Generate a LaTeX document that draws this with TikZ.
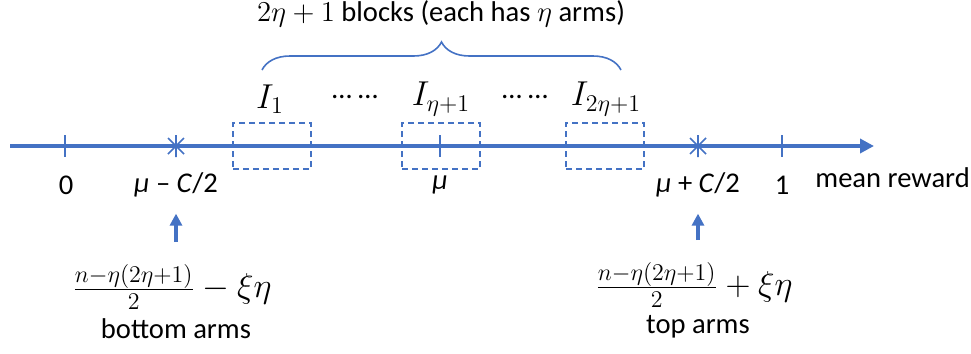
\documentclass[tikz,border=0pt]{standalone}
\usepackage{fontspec}
\setmainfont{Carlito}
\usetikzlibrary{arrows.meta,decorations.pathreplacing}
\definecolor{axisblue}{HTML}{4472C4}

\tikzset{
  lbl/.style={font=\fontsize{14.3}{17}\selectfont, inner sep=1pt},
  mathlbl/.style={font=\fontsize{16.5}{19}\selectfont, inner sep=1pt},
  blockbox/.style={draw=axisblue, dashed, line width=0.8pt,
    dash pattern=on 3pt off 2pt, minimum width=39pt, minimum height=23pt},
  tickmark/.style={draw=axisblue, line width=0.8pt},
  uparrow/.style={draw=axisblue, line width=1.6pt, -{Triangle[length=6pt,width=6pt]}},
}

\begin{document}
\begin{tikzpicture}[x=0.5pt,y=-0.5pt]
  \useasboundingbox (0,0) rectangle (971,354);

  % axis
  \coordinate (axisstart) at (10,146);
  \coordinate (axisend) at (874,146);
  \draw[axisblue, line width=2pt, -{Triangle[length=7pt,width=7pt]}] (axisstart) -- (axisend);

  % ticks
  \foreach \name/\x in {zero/65, mid/440, one/782} {
    \coordinate (\name) at (\x,146);
    \draw[tickmark] (\x,135) -- (\x,157);
  }

  % stars
  \foreach \name/\x in {lowstar/176, highstar/698} {
    \coordinate (\name) at (\x,146);
    \draw[tickmark] (\x,135) -- (\x,157)
      (\x-8,138) -- (\x+8,154) (\x-8,154) -- (\x+8,138);
  }

  % blocks
  \node[blockbox] (firstblock) at (272,146) {};
  \node[blockbox] (midblock) at (441,146) {};
  \node[blockbox] (lastblock) at (605,146) {};

  % block labels
  \node[mathlbl] (firstlabel) at (270,99) {$I_1$};
  \node[lbl] at (355,97) {… …};
  \node[mathlbl] (midlabel) at (441,99) {$I_{\eta+1}$};
  \node[lbl] at (525,97) {… …};
  \node[mathlbl] (lastlabel) at (606,99) {$I_{2\eta+1}$};

  % brace
  \coordinate (braceleft) at (262,70);
  \coordinate (braceright) at (621,70);
  \draw[axisblue, line width=0.8pt, decorate,
    decoration={brace, amplitude=14pt}] (braceleft) -- (braceright);
  \node[lbl] (title) at (441,14) {$2\eta+1$ blocks (each has $\eta$ arms)};

  % axis labels
  \node[lbl] (zerolabel) at (66,185) {0};
  \node[lbl] (lowlabel) at (176,185) {\textit{μ} – \textit{C}/2};
  \node[lbl] (mulabel) at (440,185) {\textit{μ}};
  \node[lbl] (highlabel) at (698,185) {\textit{μ} + \textit{C}/2};
  \node[lbl] (onelabel) at (782,185) {1};
  \node[lbl, anchor=west] (axislabel) at (813,178) {mean reward};

  % arm counts
  \node[mathlbl, inner sep=0pt] (bottomcount) at (172,287) {$\frac{n-\eta(2\eta+1)}{2}-\xi\eta$};
  \node[lbl, inner sep=0pt] (bottomtext) at (176,329) {bottom arms};
  \node[mathlbl, inner sep=0pt] (topcount) at (694,285) {$\frac{n-\eta(2\eta+1)}{2}+\xi\eta$};
  \node[lbl, inner sep=0pt] (toptext) at (698,327) {top arms};

  \coordinate (lowfoot) at (176,242);
  \coordinate (highfoot) at (698,240);
  \draw[uparrow, shorten >=7pt] (lowfoot) -- (lowfoot |- lowlabel.south);
  \draw[uparrow, shorten >=7pt] (highfoot) -- (highfoot |- highlabel.south);
\end{tikzpicture}
\end{document}
